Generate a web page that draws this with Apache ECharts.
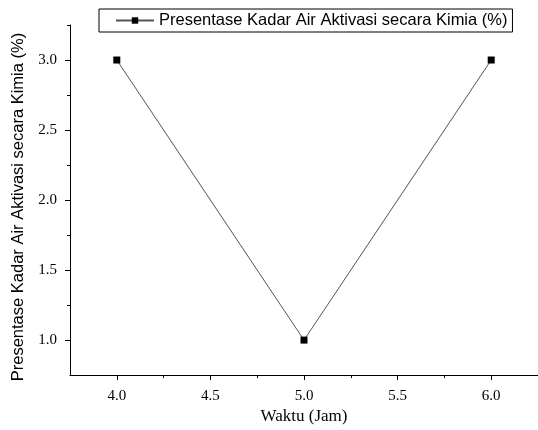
<!DOCTYPE html>
<html>
<head>
<meta charset="utf-8">
<script src="https://cdn.jsdelivr.net/npm/echarts@6/dist/echarts.min.js"></script>
<style>html,body{margin:0;padding:0;background:#fff}#c{width:538px;height:430px}</style>
</head>
<body>
<div id="c"></div>
<script>
const seriesName = 'Presentase Kadar Air Aktivasi secara Kimia (%)';
const xValues = [4.0, 5.0, 6.0];
const yValues = [3.0, 1.0, 3.0];
const xMajorTicks = [4.0, 4.5, 5.0, 5.5, 6.0];
const xMinorTicks = [4.25, 4.75, 5.25, 5.75];
const yMajorTicks = [1.0, 1.5, 2.0, 2.5, 3.0];
const yMinorTicks = [1.25, 1.75, 2.25, 2.75, 3.25];
const xTitle = 'Waktu (Jam)';
const yTitle = 'Presentase Kadar Air Aktivasi secara Kimia (%)';

const serif = 'Liberation Serif';
const sans = 'Liberation Sans';
const chart = echarts.init(document.getElementById('c'), null, {renderer: 'canvas'});
const data = xValues.map((x, i) => [x, yValues[i]]);
const lineCol = '#000';

chart.setOption({
  animation: false,
  backgroundColor: '#fff',
  grid: {left: 70, right: -4, top: 25, bottom: 52, containLabel: false},
  legend: {
    show: true,
    left: 99, top: 9,
    padding: [3, 5, 3, 16],
    borderColor: '#000', borderWidth: 1,
    itemWidth: 38, itemHeight: 8, itemGap: 5,
    textStyle: {fontFamily: sans, fontSize: 16.5, color: '#000'},
    data: [seriesName]
  },
  xAxis: [{
    type: 'value', min: 3.75, max: 6.25, position: 'bottom',
    name: xTitle, nameLocation: 'middle', nameGap: 32,
    nameTextStyle: {fontFamily: serif, fontSize: 17, color: '#000'},
    axisLine: {show: true, lineStyle: {color: lineCol, width: 1}},
    axisTick: {show: true, length: 5, inside: false, customValues: xMajorTicks, lineStyle: {color: lineCol}},
    axisLabel: {show: true, customValues: xMajorTicks, margin: 13, fontFamily: serif, fontSize: 15, color: '#000',
      formatter: v => v.toFixed(1)},
    splitLine: {show: false}
  }, {
    type: 'value', min: 3.75, max: 6.25, position: 'bottom',
    axisLine: {show: false},
    axisTick: {show: true, length: 3, inside: false, customValues: xMinorTicks, lineStyle: {color: lineCol}},
    axisLabel: {show: false},
    splitLine: {show: false}
  }],
  yAxis: [{
    type: 'value', min: 0.75, max: 3.25, position: 'left',
    name: yTitle, nameLocation: 'middle', nameGap: 38,
    nameTextStyle: {fontFamily: sans, fontSize: 16.5, color: '#000', padding: [0, 14, 0, 0]},
    axisLine: {show: true, lineStyle: {color: lineCol, width: 1}},
    axisTick: {show: true, length: 5, inside: false, customValues: yMajorTicks, lineStyle: {color: lineCol}},
    axisLabel: {show: true, customValues: yMajorTicks, margin: 13, fontFamily: serif, fontSize: 15, color: '#000',
      formatter: v => v.toFixed(1)},
    splitLine: {show: false}
  }, {
    type: 'value', min: 0.75, max: 3.25, position: 'left',
    axisLine: {show: false},
    axisTick: {show: true, length: 3, inside: false, customValues: yMinorTicks, lineStyle: {color: lineCol}},
    axisLabel: {show: false},
    splitLine: {show: false}
  }],
  series: [{
    name: seriesName,
    type: 'line',
    xAxisIndex: 0, yAxisIndex: 0,
    data: data,
    symbol: 'rect', symbolSize: 7,
    itemStyle: {color: '#000'},
    lineStyle: {color: '#555', width: 1},
    emphasis: {disabled: true}
  }]
});
</script>
</body>
</html>
